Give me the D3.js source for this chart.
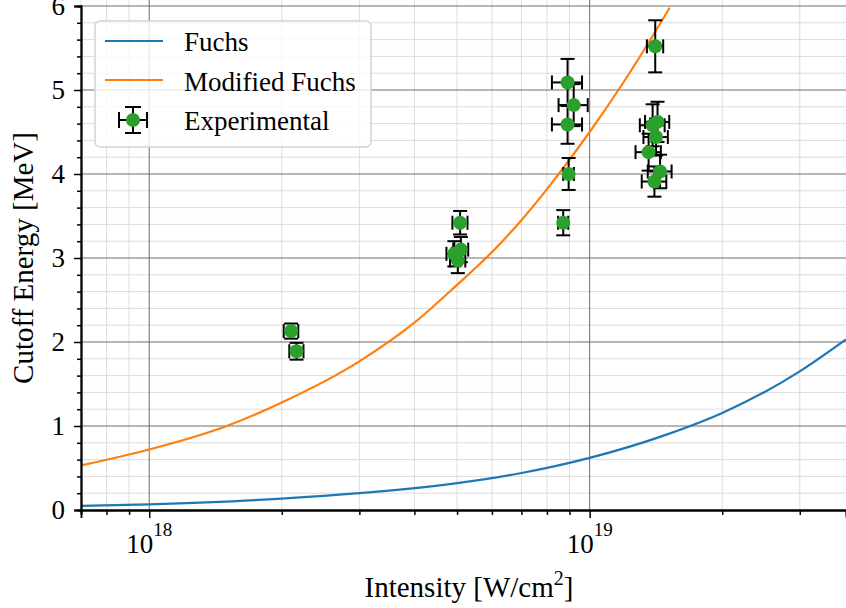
<!DOCTYPE html>
<html>
<head>
<meta charset="utf-8">
<script src="https://cdn.jsdelivr.net/npm/d3@7"></script>
<style>
  body { margin: 0; background: #fff; }
  text { font-family: "Liberation Serif", "Times New Roman", serif; fill: #000; }
</style>
</head>
<body>
<svg id="chart" width="846" height="608"></svg>
<script>
// Fuchs model curve
const fuchsI = [7e17, 1e18, 2e18, 3e18, 5e18, 7e18, 1e19, 1.5e19, 2e19, 3e19, 3.82e19];
const fuchsE = [0.048, 0.068, 0.135, 0.20, 0.32, 0.44, 0.62, 0.90, 1.155, 1.65, 2.03];

// Modified Fuchs curve
const modI = [7e17, 1e18, 1.5e18, 2e18, 3e18, 4e18, 5e18, 6e18, 7e18, 8e18, 9e18, 1e19, 1.2e19, 1.4e19, 1.52e19];
const modE = [0.53, 0.72, 1.0, 1.28, 1.77, 2.23, 2.68, 3.07, 3.45, 3.82, 4.17, 4.50, 5.11, 5.67, 5.98];

// Experimental points with errors
const expI = [2.10e18, 2.16e18, 4.93e18, 5.10e18, 5.02e18, 5.08e18, 8.91e18, 9.2e18, 8.91e18, 8.96e18, 8.71e18,
              1.409e19, 1.39e19, 1.426e19, 1.415e19, 1.361e19, 1.445e19, 1.403e19];
const expE = [2.13, 1.89, 3.05, 3.10, 2.97, 3.42, 5.09, 4.82, 4.59, 4.00, 3.42,
              5.52, 4.58, 4.62, 4.44, 4.26, 4.03, 3.91];
const errI = [0.08e18, 0.08e18, 0.2e18, 0.2e18, 0.2e18, 0.2e18, 0.7e18, 0.7e18, 0.7e18, 0.25e18, 0.23e18,
              0.6e18, 0.9e18, 0.9e18, 0.9e18, 0.9e18, 0.9e18, 0.9e18];
const errE = [0.09, 0.10, 0.15, 0.15, 0.15, 0.14, 0.28, 0.25, 0.23, 0.19, 0.15,
              0.31, 0.25, 0.24, 0.22, 0.22, 0.20, 0.18];

const yTicks = [0, 1, 2, 3, 4, 5, 6];
const xMajor = [1e18, 1e19];
const xMajorExp = ["18", "19"];
const labels = ["Fuchs", "Modified Fuchs", "Experimental"];

const pLeft = 81, pRight = 846, pTop = 6, pBottom = 510;
const svg = d3.select("#chart");

const x = d3.scaleLog().domain([7e17, 3.82e19]).range([pLeft, pRight]);
const y = d3.scaleLinear().domain([0, 6]).range([pBottom, pTop]);

svg.append("defs").append("clipPath").attr("id", "clip")
  .append("rect").attr("x", pLeft).attr("y", 0).attr("width", pRight - pLeft).attr("height", pBottom);

// grid
const grid = svg.append("g");
const xMinor = x.ticks().filter(d => !xMajor.includes(d));
const yMinor = y.ticks(30).filter(d => !yTicks.includes(d));
grid.selectAll(".xm").data(xMinor).enter().append("line")
  .attr("x1", d => x(d)).attr("x2", d => x(d)).attr("y1", 0).attr("y2", pBottom)
  .attr("stroke", "#dcdcdc").attr("stroke-width", 1);
grid.selectAll(".ym").data(yMinor).enter().append("line")
  .attr("x1", pLeft).attr("x2", pRight).attr("y1", d => y(d)).attr("y2", d => y(d))
  .attr("stroke", "#dcdcdc").attr("stroke-width", 1);
grid.selectAll(".xM").data(xMajor).enter().append("line")
  .attr("x1", d => x(d)).attr("x2", d => x(d)).attr("y1", 0).attr("y2", pBottom)
  .attr("stroke", "#6e6e6e").attr("stroke-width", 1);
grid.selectAll(".yM").data(yTicks.slice(1)).enter().append("line")
  .attr("x1", pLeft).attr("x2", pRight).attr("y1", d => y(d)).attr("y2", d => y(d))
  .attr("stroke", "#6e6e6e").attr("stroke-width", 1);

// curves
const plot = svg.append("g").attr("clip-path", "url(#clip)");
const line = d3.line().x(d => x(d[0])).y(d => y(d[1])).curve(d3.curveMonotoneX);
plot.append("path").datum(fuchsI.map((v, i) => [v, fuchsE[i]]))
  .attr("d", line).attr("fill", "none").attr("stroke", "#1f77b4").attr("stroke-width", 2.2);
plot.append("path").datum(modI.map((v, i) => [v, modE[i]]))
  .attr("d", line).attr("fill", "none").attr("stroke", "#ff7f0e").attr("stroke-width", 2.2);

// error bars
const cap = 7;
const pts = expI.map((v, i) => ({ I: v, E: expE[i], dI: errI[i], dE: errE[i] }));
const eb = plot.append("g").attr("stroke", "#000").attr("stroke-width", 2);
pts.forEach(p => {
  const cx = x(p.I), cy = y(p.E);
  const x0 = x(p.I - p.dI), x1 = x(p.I + p.dI);
  const y0 = y(p.E - p.dE), y1 = y(p.E + p.dE);
  eb.append("line").attr("x1", x0).attr("x2", x1).attr("y1", cy).attr("y2", cy);
  eb.append("line").attr("x1", cx).attr("x2", cx).attr("y1", y0).attr("y2", y1);
  eb.append("line").attr("x1", x0).attr("x2", x0).attr("y1", cy - cap).attr("y2", cy + cap);
  eb.append("line").attr("x1", x1).attr("x2", x1).attr("y1", cy - cap).attr("y2", cy + cap);
  eb.append("line").attr("x1", cx - cap).attr("x2", cx + cap).attr("y1", y0).attr("y2", y0);
  eb.append("line").attr("x1", cx - cap).attr("x2", cx + cap).attr("y1", y1).attr("y2", y1);
});
plot.selectAll(".pt").data(pts).enter().append("circle")
  .attr("cx", d => x(d.I)).attr("cy", d => y(d.E)).attr("r", 7)
  .attr("fill", "#2ca02c");

// axes
const yAxis = svg.append("g").attr("transform", `translate(${pLeft},0)`)
  .call(d3.axisLeft(y).tickValues(yTicks).tickSize(7).tickPadding(9).tickFormat(d3.format("d")));
svg.append("g").attr("transform", `translate(${pLeft},0)`)
  .call(d3.axisLeft(y).tickValues(yMinor).tickSize(4).tickFormat(""));
yAxis.selectAll("text").attr("font-size", 27).attr("font-family", "Liberation Serif");

svg.append("g").attr("transform", `translate(0,${pBottom})`)
  .call(d3.axisBottom(x).tickValues(xMajor).tickSize(8).tickFormat(""));
svg.append("g").attr("transform", `translate(0,${pBottom})`)
  .call(d3.axisBottom(x).tickValues(xMinor).tickSize(5).tickFormat(""));
svg.selectAll(".domain").attr("stroke-width", 1.8);
svg.selectAll(".tick line").attr("stroke-width", 1.5);

xMajor.forEach((v, i) => {
  const t = svg.append("text").attr("x", x(v)).attr("y", 553).attr("text-anchor", "middle").attr("font-size", 27);
  t.append("tspan").text("10");
  t.append("tspan").attr("dy", -17).attr("font-size", 19).text(xMajorExp[i]);
});

// axis labels
const xl = svg.append("text").attr("x", 469).attr("y", 597).attr("text-anchor", "middle").attr("font-size", 29);
xl.append("tspan").text("Intensity [W/cm");
xl.append("tspan").attr("dy", -12).attr("font-size", 20).text("2");
xl.append("tspan").attr("dy", 12).text("]");

svg.append("text").attr("transform", `translate(33,${(pTop + pBottom) / 2}) rotate(-90)`)
  .attr("text-anchor", "middle").attr("font-size", 29).text("Cutoff Energy [MeV]");

// legend
const lg = svg.append("g");
lg.append("rect").attr("x", 95).attr("y", 21).attr("width", 276).attr("height", 126).attr("rx", 5)
  .attr("fill", "#fff").attr("fill-opacity", 0.8).attr("stroke", "#d4d4d4").attr("stroke-width", 1.5);
lg.append("line").attr("x1", 105).attr("x2", 163).attr("y1", 41).attr("y2", 41)
  .attr("stroke", "#1f77b4").attr("stroke-width", 2.2);
lg.append("line").attr("x1", 105).attr("x2", 163).attr("y1", 80).attr("y2", 80)
  .attr("stroke", "#ff7f0e").attr("stroke-width", 2.2);
const mk = lg.append("g").attr("stroke", "#000").attr("stroke-width", 2);
const mx = 133, my = 120;
mk.append("line").attr("x1", mx - 14).attr("x2", mx + 14).attr("y1", my).attr("y2", my);
mk.append("line").attr("x1", mx).attr("x2", mx).attr("y1", my - 13).attr("y2", my + 13);
mk.append("line").attr("x1", mx - 14).attr("x2", mx - 14).attr("y1", my - 8).attr("y2", my + 8);
mk.append("line").attr("x1", mx + 14).attr("x2", mx + 14).attr("y1", my - 8).attr("y2", my + 8);
mk.append("line").attr("x1", mx - 8).attr("x2", mx + 8).attr("y1", my - 13).attr("y2", my - 13);
mk.append("line").attr("x1", mx - 8).attr("x2", mx + 8).attr("y1", my + 13).attr("y2", my + 13);
lg.append("circle").attr("cx", mx).attr("cy", my).attr("r", 7).attr("fill", "#2ca02c");
lg.selectAll(".lt").data(labels).enter().append("text")
  .attr("x", 184).attr("y", (d, i) => 51 + i * 39.5).attr("font-size", 27).text(d => d);
</script>
</body>
</html>
